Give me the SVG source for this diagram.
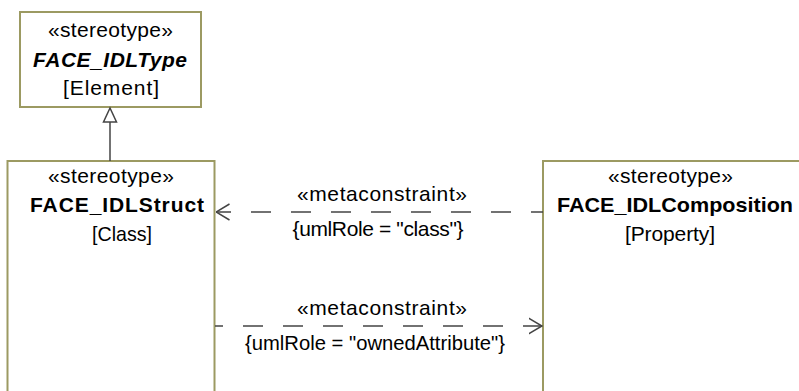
<svg xmlns="http://www.w3.org/2000/svg" width="799" height="391" viewBox="0 0 799 391">
<style>
.box{fill:#fff;stroke:#9c9a62;stroke-width:2}
.t{font-family:"Liberation Sans",Arial,sans-serif;font-size:21px;fill:#000;text-anchor:middle}
.b{font-weight:bold}
.bi{font-weight:bold;font-style:italic}
.ln{fill:none;stroke:#444;stroke-width:1.5}
.dash{stroke-dasharray:20 20}
</style>
<defs>
<marker id="open" viewBox="0 0 14 18" refX="13.5" refY="9" markerWidth="14" markerHeight="18" markerUnits="userSpaceOnUse" orient="auto">
<path d="M0,1 L13.5,9 L0,17" fill="none" stroke="#444" stroke-width="1.5"/>
</marker>
</defs>
<rect width="799" height="391" fill="#fff"/>
<g id="FACE_IDLType">
<rect class="box" x="20" y="12" width="181" height="95"/>
<text class="t" x="110.5" y="36.5" textLength="125" lengthAdjust="spacing">«stereotype»</text>
<text class="t bi" x="110" y="66.5" textLength="154" lengthAdjust="spacing">FACE_IDLType</text>
<text class="t" x="111" y="95" textLength="96" lengthAdjust="spacing">[Element]</text>
</g>
<g id="FACE_IDLStruct">
<rect class="box" x="7.5" y="161" width="207" height="240"/>
<text class="t" x="111" y="182.5" textLength="126" lengthAdjust="spacing">«stereotype»</text>
<text class="t b" x="117" y="211.5" textLength="174" lengthAdjust="spacing">FACE_IDLStruct</text>
<text class="t" x="122" y="241" textLength="60" lengthAdjust="spacingAndGlyphs">[Class]</text>
</g>
<g id="FACE_IDLComposition">
<rect class="box" x="543" y="161" width="270" height="240"/>
<text class="t" x="670.5" y="182.5" textLength="125" lengthAdjust="spacing">«stereotype»</text>
<text class="t b" x="675" y="211.5" textLength="236" lengthAdjust="spacingAndGlyphs">FACE_IDLComposition</text>
<text class="t" x="670" y="241" textLength="90" lengthAdjust="spacing">[Property]</text>
</g>
<g id="connectors">
<path class="ln" d="M110,122 V161"/>
<path d="M110,108 L103.5,122 H116.5 Z" fill="#fff" stroke="#444" stroke-width="1.5"/>
<path class="ln dash" d="M543,212 H216" stroke-dashoffset="8" marker-end="url(#open)"/>
<path class="ln dash" d="M215,326 H542" stroke-dashoffset="12" marker-end="url(#open)"/>
<text class="t" x="382" y="201" textLength="170" lengthAdjust="spacing">«metaconstraint»</text>
<text class="t" x="378" y="236" textLength="171" lengthAdjust="spacing">{umlRole = "class"}</text>
<text class="t" x="382" y="315" textLength="170" lengthAdjust="spacing">«metaconstraint»</text>
<text class="t" x="375" y="350" textLength="260" lengthAdjust="spacingAndGlyphs">{umlRole = "ownedAttribute"}</text>
</g>
</svg>
